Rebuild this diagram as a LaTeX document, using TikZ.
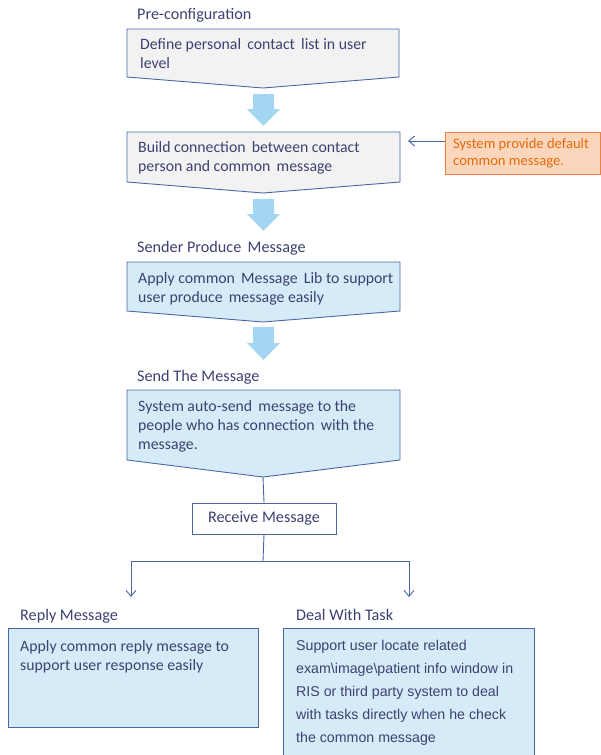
\documentclass[tikz,border=0pt]{standalone}
\usepackage{fontspec}
\setmainfont{Carlito}
\newfontfamily\arialf{Liberation Sans}
\usetikzlibrary{arrows.meta}
\definecolor{bordc}{HTML}{4A67A3}
\definecolor{grayf}{HTML}{F2F2F2}
\definecolor{bluef}{HTML}{D5EBF7}
\definecolor{arrf}{HTML}{A3D7F1}
\definecolor{txtc}{HTML}{3D4170}
\definecolor{orf}{HTML}{FCD6BC}
\definecolor{orb}{HTML}{E58446}
\definecolor{ort}{HTML}{E36C0A}
\tikzset{
  x=1pt, y=-1pt,
  pent/.style={draw=bordc, line width=0.9pt},
  txt/.style={inner sep=0pt, anchor=north west, align=left, text=txtc, font=\fontsize{15.8}{19}\selectfont},
  ttl/.style={inner sep=0pt, anchor=west, text=txtc, font=\fontsize{16.2}{19}\selectfont},
  blockarr/.style={fill=arrf, draw=none},
  conn/.style={draw=bordc, line width=0.9pt},
  tipc/.style={-{Straight Barb[length=6pt,width=10pt,line width=0.9pt]}}
}
\begin{document}
\begin{tikzpicture}
\useasboundingbox (0,0) rectangle (601,755);
% titles
\node[ttl] (t1) at (137,15) {Pre-configuration};
\node[ttl] (t3) at (137,248) {Sender Produce\, Message};
\node[ttl] (t4) at (137,377) {Send The Message};
\node[ttl] (t5) at (20,616) {Reply Message};
\node[ttl] (t6) at (296,615) {Deal With Task};
% box 1
\draw[pent, fill=grayf] (127,29) -- (399,29) -- (399,77) -- (263,88) -- (127,77) -- cycle;
\coordinate (b1tip) at (263,88);
\node[txt] (b1) at (140,38) {Define personal\, contact\, list in user\\level};
% arrow 1
\fill[blockarr] (253,94) -- (274,94) -- (274,109) -- (280,109) -- (263.5,126) -- (247,109) -- (253,109) -- cycle;
% box 2
\draw[pent, fill=grayf] (127,132) -- (400,132) -- (400,182) -- (263,193) -- (127,182) -- cycle;
\coordinate (b2east) at (408,141);
\node[txt] (b2) at (138,141) {Build connection\, between contact\\person and common\, message};
% orange box
\node[draw=orb, fill=orf, line width=0.9pt, minimum width=155pt, minimum height=42pt, inner sep=0pt] (ob) at (523,153) {};
\node[inner sep=0pt, anchor=north west, align=left, text=ort, font=\fontsize{14.6}{17}\selectfont] (obt) at (453,138) {System provide default\\common message.};
\draw[conn, tipc] (ob.west |- b2east) -- (b2east);
% arrow 2
\fill[blockarr] (253,199) -- (274,199) -- (274,214) -- (280,214) -- (263.5,231) -- (247,214) -- (253,214) -- cycle;
% box 3
\draw[pent, fill=bluef] (127,262) -- (400,262) -- (400,311) -- (263,322) -- (127,311) -- cycle;
\node[txt] (b3) at (138,272) {Apply common\, Message\, Lib to support\\user produce\, message easily};
% arrow 3
\fill[blockarr] (253,327) -- (274,327) -- (274,343) -- (280,343) -- (263.5,360) -- (247,343) -- (253,343) -- cycle;
% box 4
\draw[pent, fill=bluef] (127,390) -- (400,390) -- (400,460) -- (263,477) -- (127,460) -- cycle;
\coordinate (b4tip) at (263,477);
\node[txt] (b4) at (138,400) {System auto-send\, message to the\\people who has connection\, with the\\message.};
% receive
\node[draw=bordc, line width=0.9pt, fill=white, minimum width=144pt, minimum height=31pt, inner sep=0pt, text=txtc, font=\fontsize{16.2}{19}\selectfont] (recv) at (264,518.5) {Receive Message};
\draw[conn] (b4tip) -- (recv.north);
\coordinate (split) at (263,561);
\coordinate (lt) at (131,597);
\coordinate (rt) at (409,597);
\draw[conn] (recv.south) -- (split);
\draw[conn, tipc] (split) -| (lt);
\draw[conn, tipc] (split) -| (rt);
% reply box
\draw[draw=bordc, line width=0.9pt, fill=bluef] (8,628) rectangle (258,727);
\node[txt] (b5) at (20,640) {Apply common reply message to\\support user response easily};
% deal box
\draw[draw=bordc, line width=0.9pt, fill=bluef] (283,760) -- (283,628) -- (534,628) -- (534,760);
\node[txt, font=\arialf\fontsize{14.2}{23.1}\selectfont] (b6) at (296,640) {Support user locate related\\exam\textbackslash image\textbackslash patient info window in\\RIS or third party system to deal\\with tasks directly when he check\\the common message};
\end{tikzpicture}
\end{document}
